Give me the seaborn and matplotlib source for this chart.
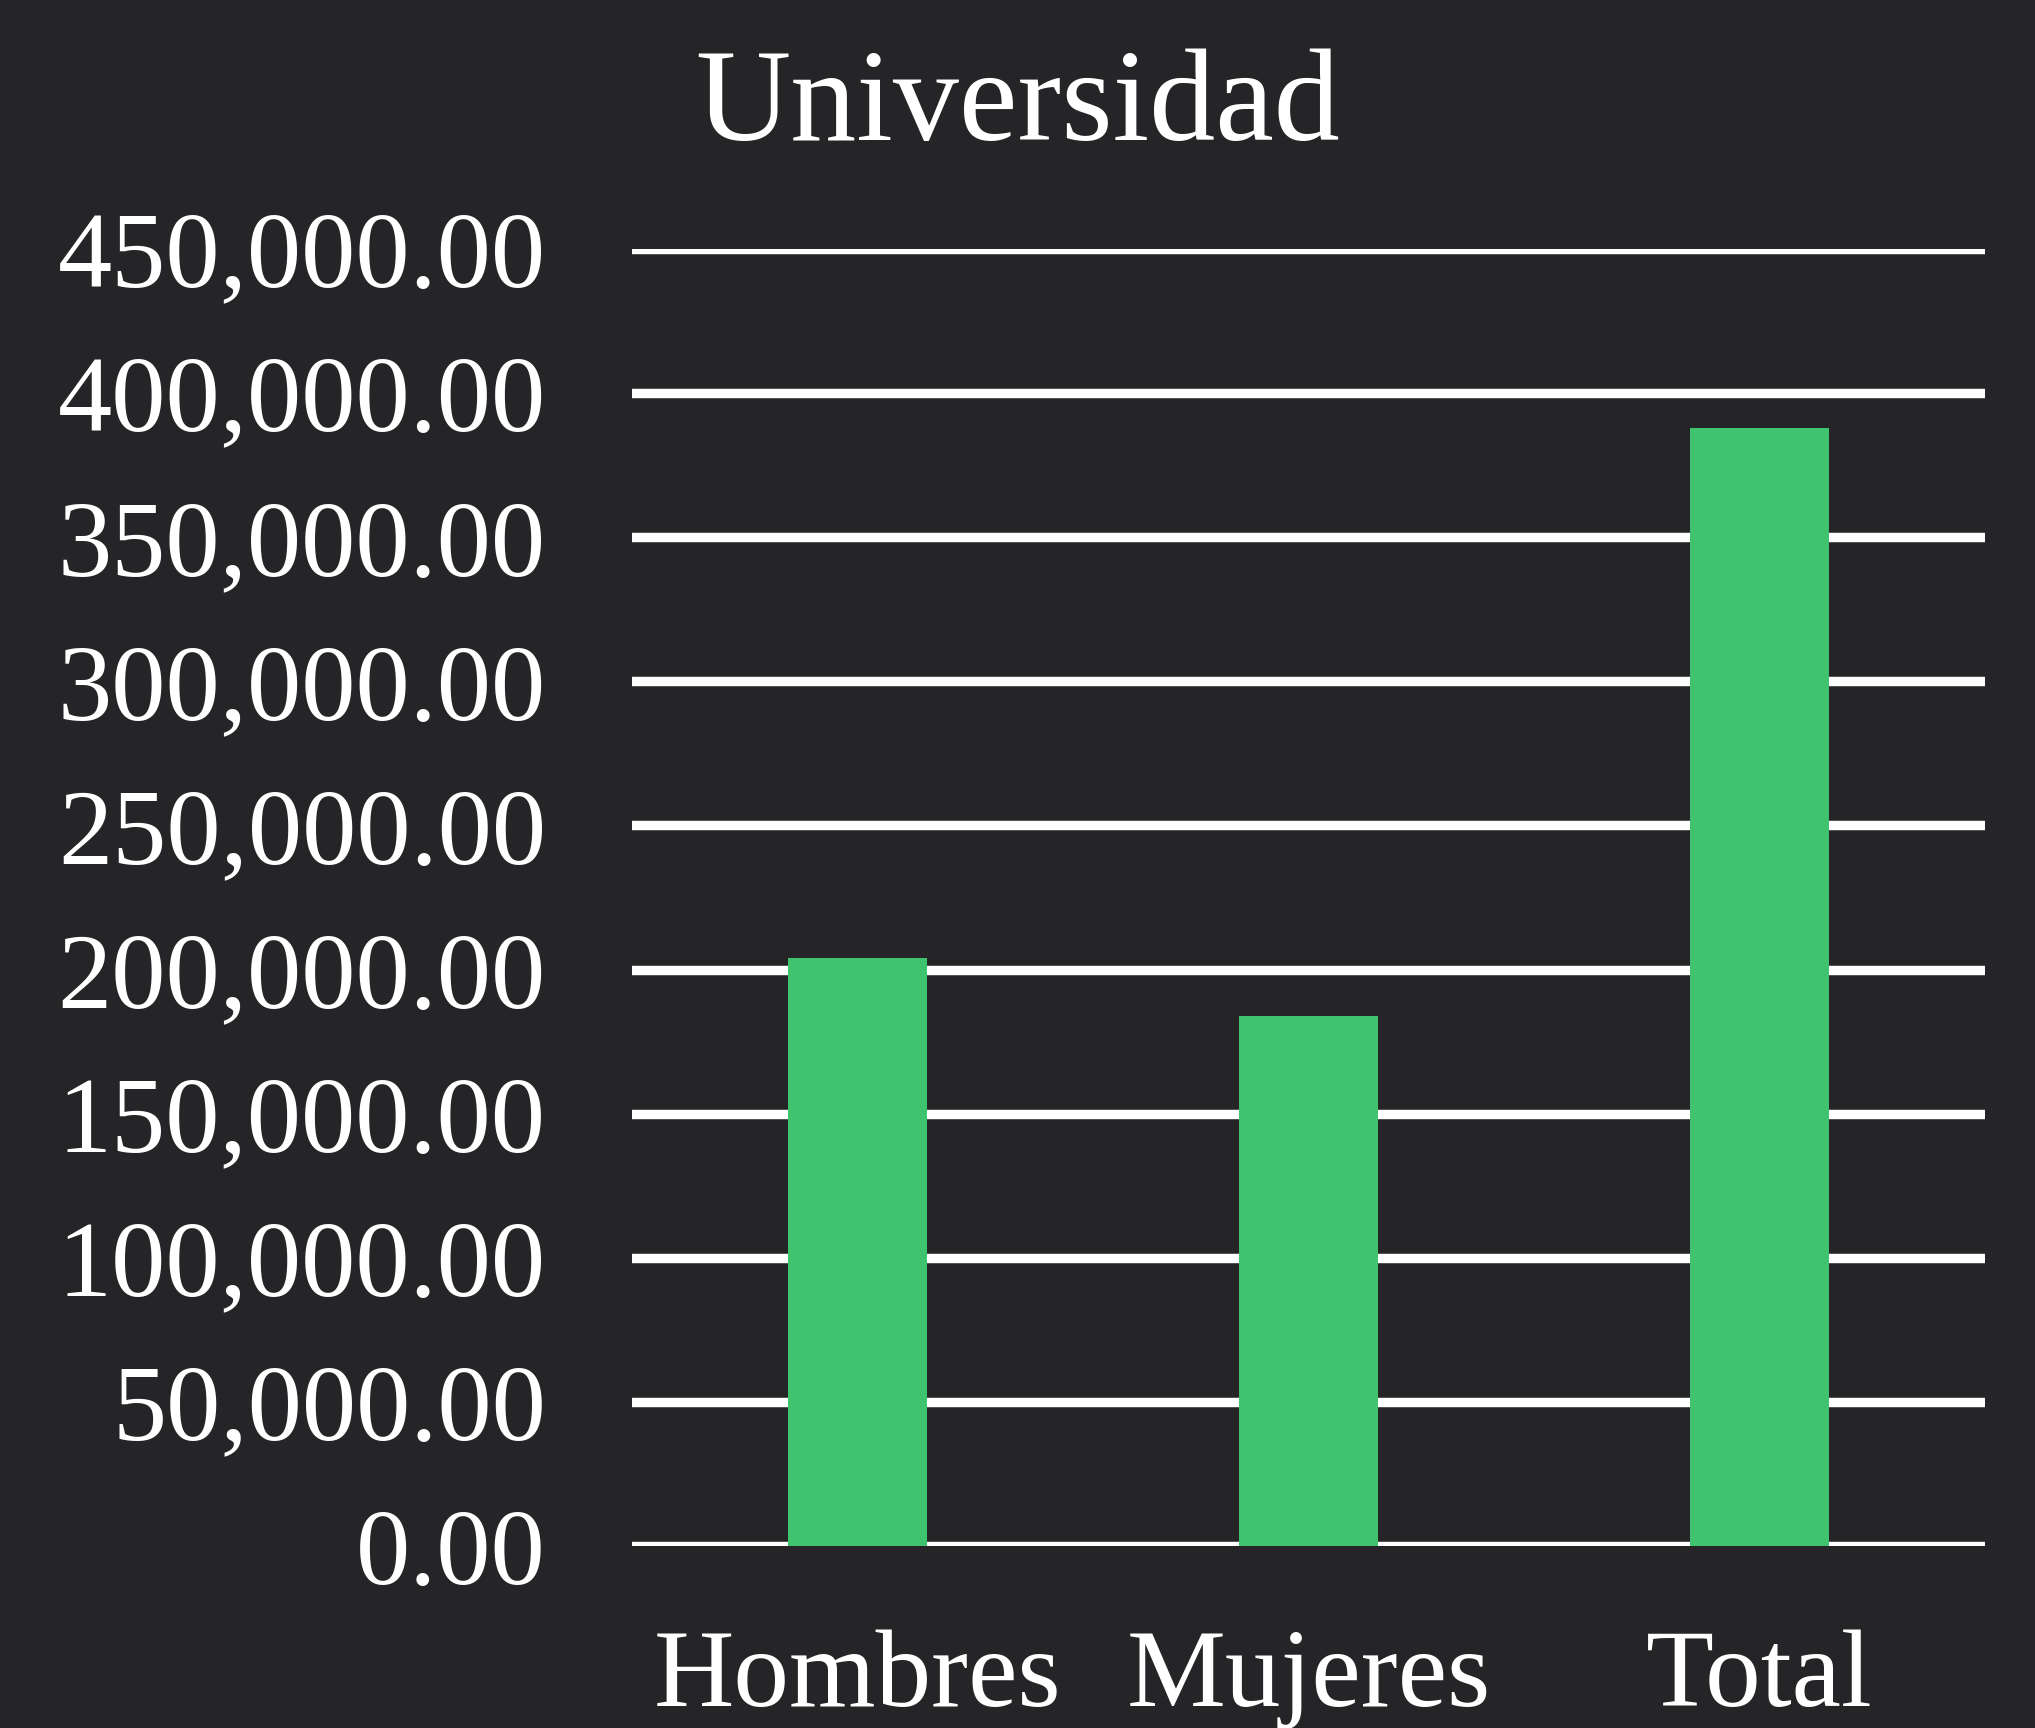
import matplotlib
matplotlib.use("Agg")
import matplotlib.pyplot as plt
import seaborn as sns
import pandas as pd
from matplotlib.ticker import FuncFormatter

categories = ["Hombres", "Mujeres", "Total"]
values = [204000, 184000, 388000]
title = "Universidad"
y_ticks = [0, 50000, 100000, 150000, 200000, 250000, 300000, 350000, 400000, 450000]

bg = "#252527"
green = "#40C36E"

sns.set_theme(style="dark")
plt.rcParams["font.family"] = ["Liberation Serif", "DejaVu Serif"]

df = pd.DataFrame({"cat": categories, "val": values})

fig = plt.figure(figsize=(20.35, 17.28), dpi=100, facecolor=bg)
ax = fig.add_axes([632 / 2035, 1 - 1546 / 1728, (1985 - 632) / 2035, (1546 - 249) / 1728])
ax.set_facecolor(bg)

sns.barplot(data=df, x="cat", y="val", color=green, width=0.31, saturation=1,
            ax=ax, zorder=3, edgecolor="none")

ax.set_ylim(0, 450000)
ax.set_xlim(-0.5, 2.5)
ax.set_yticks(y_ticks)
ax.yaxis.set_major_formatter(FuncFormatter(lambda v, p: f"{v:,.2f}"))
ax.grid(axis="y", color="white", linewidth=6.8, zorder=0)
ax.grid(axis="x", visible=False)
ax.set_axisbelow(True)
for s in ax.spines.values():
    s.set_visible(False)
ax.tick_params(axis="both", length=0, colors="white")
ax.tick_params(axis="y", labelsize=78, pad=62)
ax.tick_params(axis="x", labelsize=80, pad=60)
ax.set_xlabel("")
ax.set_ylabel("")

fig.text(0.5, 1 - 108 / 1728, title, ha="center", va="center", color="white", fontsize=95)

fig.savefig("out.png", dpi=100, facecolor=bg)
